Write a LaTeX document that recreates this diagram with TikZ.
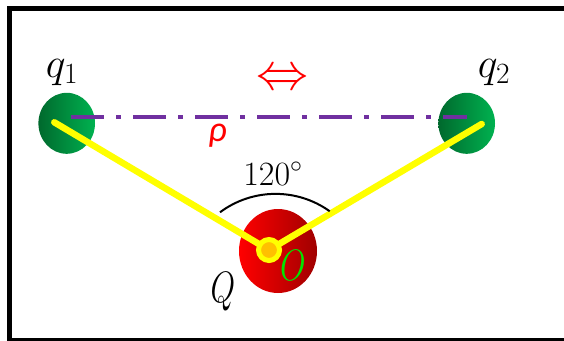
\RequirePackage{fix-cm}
\documentclass[tikz,border=0pt]{standalone}
\usepackage{graphicx}
\usepackage{fontspec}
\usetikzlibrary{shapes.geometric}
\newfontfamily\carl{Carlito}
\definecolor{dkgreen}{RGB}{0,105,45}
\definecolor{ltgreen}{RGB}{0,178,80}
\definecolor{brred}{RGB}{255,0,0}
\definecolor{dkred}{RGB}{160,0,0}
\definecolor{purp}{RGB}{112,48,160}
\definecolor{yell}{RGB}{255,255,0}
\definecolor{orng}{RGB}{255,192,0}
\definecolor{brgreen}{RGB}{0,230,0}
\begin{document}
\begin{tikzpicture}[x=1pt,y=-1pt,
  lbl/.style={inner sep=0pt, anchor=base},
  ball/.style={ellipse, inner sep=0pt, draw=none},
  rod/.style={yell, line width=6.5pt, line cap=round},
  axisline/.style={purp, line width=4pt, dash pattern=on 33pt off 12pt on 4.7pt off 12.3pt}]
\useasboundingbox (0,0) rectangle (564,340);
\begin{scope}
\clip (0,0) rectangle (564,340);
\draw[line width=5pt] (9.8,8.5) rectangle (600,340.5);
\end{scope}
% balls
\node[ball, left color=dkgreen, right color=ltgreen, minimum width=56.6pt, minimum height=61pt] (q1) at (66.7,123.3) {};
\node[ball, left color=dkgreen, right color=ltgreen, minimum width=56.6pt, minimum height=61pt] (q2) at (466.7,123.3) {};
\node[ball, left color=brred, right color=dkred, minimum width=78pt, minimum height=84pt] (Qb) at (278,251) {};
% axis
\coordinate (p1) at (71,117.3);
\coordinate (p2) at (466.7,117.3);
\draw[axisline] (p1) -- (p2);
% rods
\coordinate (oc) at (269,250);
\coordinate (e1) at (54.3,122.3);
\coordinate (e2) at (481.7,124);
\draw[rod] (e1) -- (oc);
\draw[rod] (e2) -- (oc);
\node[circle, draw=yell, line width=5pt, fill=orng, minimum size=21pt, inner sep=0pt] (o) at (oc) {};
% angle arc
\draw[line width=2pt] (220,212.3) arc[start angle=-126.7, end angle=-54.4, radius=93];
% labels
\node[lbl] (lq1) at (62,77) {\fontsize{42}{42}\selectfont $q_1$};
\node[lbl] (lq2) at (494,77) {\fontsize{42}{42}\selectfont $q_2$};
\node[lbl] (ang) at (273,185) {\fontsize{34}{34}\selectfont $120^{\circ}$};
\node[inner sep=0pt, text=red] (arr) at (282,80) {\fontsize{52}{52}\selectfont $\Leftrightarrow$};
\node[lbl, text=red] (rho) at (217.5,141.7) {\fontsize{36}{36}\selectfont\carl\itshape ρ};
\node[lbl] (lQ) at (223,302) {\scalebox{0.72}[1]{\fontsize{44}{44}\selectfont $Q$}};
\node[lbl, text=brgreen] (lO) at (293,280) {\scalebox{0.75}[1]{\fontsize{44}{44}\selectfont $O$}};
\end{tikzpicture}
\end{document}
